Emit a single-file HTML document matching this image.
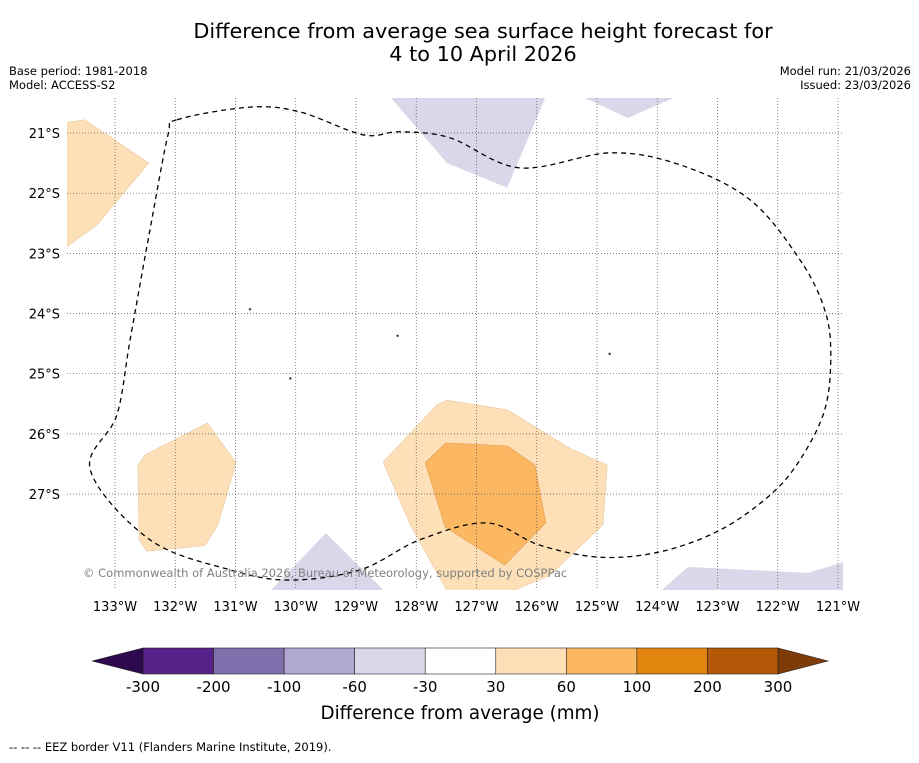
<!DOCTYPE html>
<html><head><meta charset="utf-8">
<style>
body{margin:0;background:#fff;font-family:"Liberation Sans","DejaVu Sans",sans-serif;}
svg text{font-family:"DejaVu Sans","Liberation Sans",sans-serif;}
</style></head>
<body>
<svg id="chart" width="919" height="758" viewBox="0 0 919 758" xmlns="http://www.w3.org/2000/svg">
<text x="483" y="38" font-size="20.8" text-anchor="middle">Difference from average sea surface height forecast for</text>
<text x="483" y="61" font-size="20.8" text-anchor="middle">4 to 10 April 2026</text>
<text x="9" y="75" font-size="11.5">Base period: 1981-2018</text>
<text x="9" y="89" font-size="11.5">Model: ACCESS-S2</text>
<text x="911" y="75" font-size="11.5" text-anchor="end">Model run: 21/03/2026</text>
<text x="911" y="89" font-size="11.5" text-anchor="end">Issued: 23/03/2026</text>
<defs><clipPath id="mapclip"><rect x="67" y="98" width="776" height="492"/></clipPath></defs>
<g id="map" clip-path="url(#mapclip)"></g>
<g id="axes"></g>
<text x="83" y="577" font-size="11.5" fill="#808080">© Commonwealth of Australia 2026, Bureau of Meteorology, supported by COSPPac</text>
<g id="cbar"></g>
<text x="460" y="719" font-size="18.3" text-anchor="middle">Difference from average (mm)</text>
<text x="9" y="751" font-size="11.5">--  --  -- EEZ border V11 (Flanders Marine Institute, 2019).</text>
</svg>
<script>
// data: longitudes in degrees W, latitudes in degrees S
const lonTicks=[133,132,131,130,129,128,127,126,125,124,123,122,121];
const latTicks=[21,22,23,24,25,26,27];
const cbarBounds=[-300,-200,-100,-60,-30,30,60,100,200,300];
const cbarColors=["#56228a","#7e70ad","#b0a8d0","#d8d8ea","#ffffff","#fde0b8","#fbb762","#e2850f","#b35806"];
const orangeTopLeft=[[133.8,20.82],[133.5,20.78],[132.44,21.5],[133.3,22.53],[133.8,22.89]];
const orangeLeft=[[132.62,26.52],[132.5,26.35],[131.47,25.82],[130.99,26.48],[131.29,27.51],[131.51,27.86],[132.47,27.95],[132.6,27.76]];
const orangeBig=[[128.55,26.47],[127.66,25.52],[127.49,25.44],[126.49,25.6],[125.45,26.24],[124.83,26.52],[124.9,27.51],[125.78,28.35],[126.61,28.7],[127.44,28.7],[128.1,27.51]];
const orangeInner=[[127.85,26.48],[127.51,26.15],[126.49,26.2],[126.03,26.52],[125.85,27.48],[126.53,28.18],[127.52,27.55]];
const purpleTop1=[[128.52,20.3],[125.81,20.3],[126.49,21.91],[127.49,21.5]];
const purpleTop2=[[125.45,20.3],[123.46,20.3],[124.49,20.75]];
const purpleBottom1=[[130.51,28.7],[129.5,27.65],[128.44,28.7]];
const purpleBottom2=[[124.04,28.7],[123.49,28.21],[121.5,28.31],[120.8,28.1],[120.8,28.7]];
const eez=[[131.97,20.78],[130.76,20.57],[129.93,20.65],[128.88,21.03],[128.27,20.98],[127.44,21.08],[126.28,21.58],[124.78,21.33],[123.62,21.53],[122.46,22.11],[121.63,23.11],[121.22,23.94],[121.12,24.69],[121.22,25.6],[121.63,26.43],[122.13,27.02],[122.96,27.6],[123.95,27.96],[124.95,28.05],[125.95,27.85],[126.83,27.48],[127.94,27.76],[128.93,28.26],[130.1,28.43],[131.09,28.26],[132.42,27.76],[133.41,26.6],[132.97,25.69],[132.75,24.44],[132.42,22.61],[132.12,21.03],[131.97,20.78]];
const islands=[[130.76,23.93],[130.09,25.08],[128.31,24.37],[124.79,24.67]];

const NS="http://www.w3.org/2000/svg";
function X(lonW){return 115+(133-lonW)*60.25;}
function Y(latS){return 133+(latS-21)*60.17;}
function mk(tag,attrs,parent){const e=document.createElementNS(NS,tag);for(const k in attrs)e.setAttribute(k,attrs[k]);parent.appendChild(e);return e;}
const map=document.getElementById('map'),axes=document.getElementById('axes'),cb=document.getElementById('cbar');
function poly(pts,fill,name){const p=mk('polygon',{points:pts.map(q=>X(q[0])+','+Y(q[1])).join(' '),fill:fill,stroke:fill==='#fbb762'?'#e09a4a':'#e8c8a0','stroke-width':0.6},map);

}
poly(orangeTopLeft,'#fde0b8','anomaly-30-60-northwest');
poly(orangeLeft,'#fde0b8','anomaly-30-60-west');
poly(orangeBig,'#fde0b8','anomaly-30-60-central');
poly(orangeInner,'#fbb762','anomaly-60-100-central');
[[purpleTop1,'anomaly-neg-north'],[purpleTop2,'anomaly-neg-northeast'],[purpleBottom1,'anomaly-neg-south'],[purpleBottom2,'anomaly-neg-southeast']].forEach(a=>{const p=mk('polygon',{points:a[0].map(q=>X(q[0])+','+Y(q[1])).join(' '),fill:'#d8d8ea'},map);

});
lonTicks.forEach(l=>{const g=mk('line',{x1:X(l),x2:X(l),y1:98,y2:590,stroke:'#555','stroke-width':0.7,'stroke-dasharray':'1,2'},map);


const t=mk('text',{x:X(l),y:611,'font-size':13,'text-anchor':'middle'},axes);t.textContent=l+'°W';

});
latTicks.forEach(l=>{const g=mk('line',{x1:67,x2:843,y1:Y(l),y2:Y(l),stroke:'#555','stroke-width':0.7,'stroke-dasharray':'1,2'},map);


const t=mk('text',{x:60,y:Y(l)+5,'font-size':13,'text-anchor':'end'},axes);t.textContent=l+'°S';

});
// smooth closed curve (Catmull-Rom)
const P=eez.slice(0,-1).map(q=>[X(q[0]),Y(q[1])]);const n=P.length;
let d='M'+P[0][0]+','+P[0][1];
for(let i=0;i<n;i++){const p0=P[(i-1+n)%n],p1=P[i],p2=P[(i+1)%n],p3=P[(i+2)%n];
d+=` C${p1[0]+(p2[0]-p0[0])/6},${p1[1]+(p2[1]-p0[1])/6} ${p2[0]-(p3[0]-p1[0])/6},${p2[1]-(p3[1]-p1[1])/6} ${p2[0]},${p2[1]}`;}
const e=mk('path',{d:d,fill:'none',stroke:'#000','stroke-width':1.3,'stroke-dasharray':'5,4'},map);


islands.forEach(q=>{const c=mk('circle',{cx:X(q[0]),cy:Y(q[1]),r:1.2,fill:'#333'},map);

});
// colorbar
const cx0=143,cx1=778,seg=(cx1-cx0)/cbarColors.length,cy=648,ch=26;
cbarColors.forEach((c,i)=>{const r=mk('rect',{x:cx0+i*seg,y:cy,width:seg,height:ch,fill:c,stroke:'#222','stroke-width':0.6},cb);

});
const lt=mk('polygon',{points:`${cx0},${cy} 92,${cy+ch/2} ${cx0},${cy+ch}`,fill:'#2d0a4e',stroke:'#222','stroke-width':0.6},cb);


const rt=mk('polygon',{points:`${cx1},${cy} 828,${cy+ch/2} ${cx1},${cy+ch}`,fill:'#7f3b08',stroke:'#222','stroke-width':0.6},cb);


cbarBounds.forEach((b,i)=>{const t=mk('text',{x:cx0+i*seg,y:692,'font-size':15,'text-anchor':'middle'},cb);t.textContent=b;

});
</script>
</body></html>
